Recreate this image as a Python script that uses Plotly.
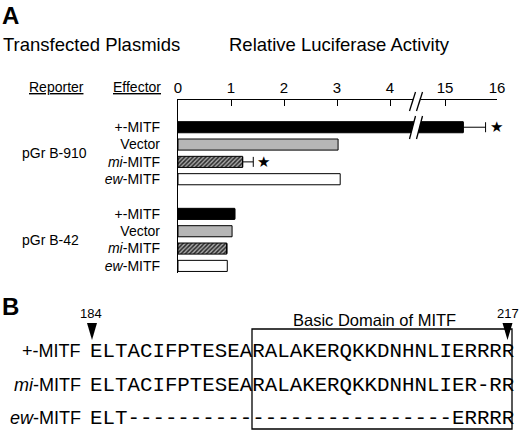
import plotly.graph_objects as go

# ---------------- data ----------------
reporters = ["pGr B-910", "pGr B-42"]
effectors = ["+-MITF", "Vector", "<i>mi</i>-MITF", "<i>ew</i>-MITF"]
effector_keys = ["wt", "vec", "mi", "ew"]
b910_values = [15.35, 3.02, 1.22, 3.06]
b910_errors = [0.43, None, 0.20, None]
b42_values = [1.07, 1.02, 0.92, 0.93]
low_ticks = [0, 1, 2, 3, 4]
high_ticks = [15, 16]

seq_labels = ["+-MITF", "<i>mi</i>-MITF", "<i>ew</i>-MITF"]
sequences = [
    "ELTACIFPTESEARALAKERQKKDNHNLIERRRR",
    "ELTACIFPTESEARALAKERQKKDNHNLIER-RR",
    "ELT--------------------------ERRRR",
]
residue_start, residue_end = "184", "217"

# ---------------- helpers ----------------
W, H = 520, 434
def px(x): return x / W
def py(y): return 1 - y / H

colors = ["#000000", "#b6b6b6", "#7a7a7a", "#ffffff"]
patterns = [None, None, dict(shape="/", size=3, solidity=0.5, fgcolor="#2a2a2a",
                             bgcolor="#a8a8a8", fillmode="replace"), None]

cats = [f"910_{k}" for k in effector_keys] + ["gap"] + [f"42_{k}" for k in effector_keys]
ticktext = effectors + [""] + effectors
BARW = 0.64

fig = go.Figure()
for i, key in enumerate(effector_keys):
    ys = [f"910_{key}", f"42_{key}"]
    xs = [b910_values[i], b42_values[i]]
    err = b910_errors[i]
    marker = dict(color=colors[i], line=dict(color="black", width=1))
    if patterns[i]:
        marker["pattern"] = patterns[i]
    ex = None
    if err is not None:
        ex = dict(type="data", array=[err, None], arrayminus=[0, None], symmetric=False,
                  color="black", thickness=1, width=5)
    fig.add_trace(go.Bar(x=xs, y=ys, orientation="h", width=BARW, marker=marker,
                         error_x=ex, xaxis="x", yaxis="y", showlegend=False,
                         hoverinfo="skip", cliponaxis=True))
    if i == 0:
        fig.add_trace(go.Bar(x=[b910_values[0]], y=[f"910_{key}"], orientation="h", width=BARW,
                             marker=marker, error_x=dict(type="data", array=[err], arrayminus=[0],
                                                         symmetric=False, color="black",
                                                         thickness=1, width=5),
                             xaxis="x2", yaxis="y", showlegend=False, hoverinfo="skip"))

shapes = []
# axis break (white gap + slanted lines)
for (yb, yt) in [(111, 92), (139, 116)]:
    x1b, x1t, x2b, x2t = 409.5, 415.5, 416.5, 422.5
    shapes.append(dict(type="path", xref="paper", yref="paper", layer="above",
                       path=f"M{px(x1b)},{py(yb)} L{px(x1t)},{py(yt)} L{px(x2t)},{py(yt)} L{px(x2b)},{py(yb)} Z",
                       fillcolor="white", line=dict(width=0)))
    for (a, b) in [(x1b, x1t), (x2b, x2t)]:
        shapes.append(dict(type="line", xref="paper", yref="paper", layer="above",
                           x0=px(a), y0=py(yb), x1=px(b), y1=py(yt),
                           line=dict(color="black", width=1.3)))

# panel B box and triangles
shapes.append(dict(type="rect", xref="paper", yref="paper", x0=px(252), x1=px(512),
                   y0=py(429), y1=py(329), line=dict(color="black", width=1.3)))
for cx in [92, 507.5]:
    shapes.append(dict(type="path", xref="paper", yref="paper",
                       path=f"M{px(cx-5)},{py(323)} L{px(cx+5)},{py(323)} L{px(cx)},{py(340)} Z",
                       fillcolor="black", line=dict(width=0)))

SANS = "Liberation Sans, Arial, Helvetica, sans-serif"
MONO = "Liberation Mono, Courier New, monospace"

ann = []
def text(t, x, y, size, xanchor="left", font=SANS, **kw):
    ann.append(dict(text=t, x=px(x), y=py(y), xref="paper", yref="paper", xanchor=xanchor,
                    yanchor="middle", showarrow=False, font=dict(family=font, size=size, color="black"), **kw))

text("<b>A</b>", 0, 16, 24)
text("Transfected Plasmids", 1, 45, 18.5)
text("Relative Luciferase Activity", 227, 45, 18.5)
text("<u>Reporter</u>", 27, 87, 14)
text("<u>Effector</u>", 111, 87, 14)

# reporter group labels (placed on the category axis between rows)
for r, yi in zip(reporters, [1.5, 6.5]):
    ann.append(dict(text=r, x=px(20), xref="paper", y=yi, yref="y", xanchor="left",
                    yanchor="middle", showarrow=False, font=dict(family=SANS, size=14, color="black")))

# significance stars
ann.append(dict(text="★", x=b910_values[0] + b910_errors[0], y="910_wt", xref="x2", yref="y",
                xanchor="left", yanchor="middle", xshift=2, showarrow=False,
                font=dict(family="DejaVu Sans", size=15, color="black")))
ann.append(dict(text="★", x=b910_values[2] + b910_errors[2], y="910_mi", xref="x", yref="y",
                xanchor="left", yanchor="middle", xshift=2, showarrow=False,
                font=dict(family="DejaVu Sans", size=15, color="black")))

# panel B
text("<b>B</b>", 0, 306, 24)
text(residue_start, 91, 313, 13, xanchor="center")
text(residue_end, 508, 313, 13, xanchor="center")
text("Basic Domain of MITF", 374, 320, 16.5, xanchor="center")
for lab, seq, yy in zip(seq_labels, sequences, [351, 385, 418]):
    text(lab, 83, yy, 18, xanchor="right")
    text(seq, 87.5, yy, 20.8, font=MONO)

fig.update_layout(
    width=W, height=H, margin=dict(l=0, r=0, t=0, b=0, pad=0, autoexpand=False),
    paper_bgcolor="white", plot_bgcolor="white",
    barmode="overlay", shapes=shapes, annotations=ann,
    font=dict(family=SANS, color="black"),
    xaxis=dict(domain=[px(178), px(417)], range=[0, 4.509], side="top", anchor="y",
               showline=True, linecolor="black", linewidth=1.3, ticks="inside", ticklen=6,
               tickcolor="black", tickvals=low_ticks, showgrid=False, zeroline=False,
               tickfont=dict(size=15), fixedrange=True, automargin=False),
    xaxis2=dict(domain=[px(417), px(497)], range=[14.46, 16], side="top", anchor="y",
                showline=True, linecolor="black", linewidth=1.3, ticks="inside", ticklen=6,
                tickcolor="black", tickvals=high_ticks, showgrid=False, zeroline=False,
                tickfont=dict(size=15), fixedrange=True, automargin=False),
    yaxis=dict(domain=[py(273), py(100)], type="category", categoryorder="array",
               categoryarray=cats, range=[8.41, -1.57], anchor="x", showline=True,
               linecolor="black", linewidth=1.3, ticks="", tickmode="array", tickvals=cats,
               ticktext=ticktext, tickfont=dict(size=14), ticklabelstandoff=14,
               showgrid=False, zeroline=False, fixedrange=True, automargin=False),
)

fig.write_html("out.html", config={"displayModeBar": False},
               post_script="document.body.style.margin='0px';")
